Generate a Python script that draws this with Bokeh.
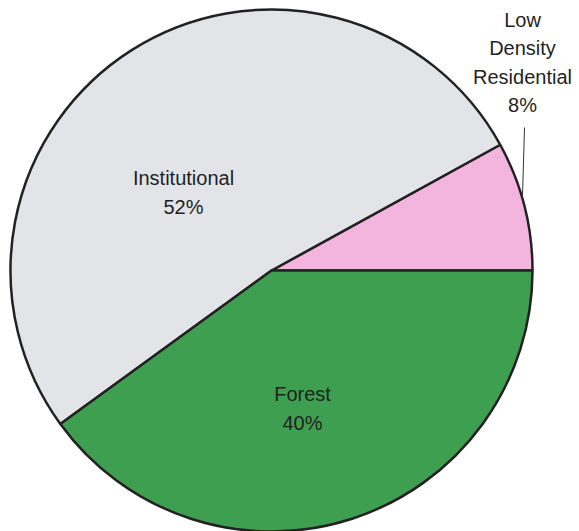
import numpy as np
from bokeh.plotting import figure
from bokeh.models import Range1d, ColumnDataSource
from bokeh.core.properties import value
from bokeh.embed import file_html
from bokeh.resources import INLINE

# Land use shares (percent), listed counter-clockwise from the east
categories = ["Low Density Residential", "Institutional", "Forest"]
shares = [8, 52, 40]
label_texts = ["Low\nDensity\nResidential\n8%", "Institutional\n52%", "Forest\n40%"]
colors = ["#f3b5de", "#e3e4e8", "#3f9f50"]

W, H = 579, 531
cx, cy, r = 271, H - 270, 261

frac = np.array(shares, dtype=float) / sum(shares)
ends = np.cumsum(frac) * 2 * np.pi
starts = np.concatenate([[0.0], ends[:-1]])

src = ColumnDataSource(dict(cat=categories, start=starts, end=ends, color=colors))

p = figure(width=W, height=H, x_range=Range1d(0, W), y_range=Range1d(0, H),
           output_backend="svg", toolbar_location=None, min_border=0)
p.axis.visible = False
p.grid.visible = False
p.outline_line_color = None
p.background_fill_color = "white"
p.border_fill_color = "white"

p.wedge(x=cx, y=cy, radius=r, radius_units="data",
        start_angle="start", end_angle="end", source=src,
        fill_color="color", line_color="#222222", line_width=2.5)

# label positions (pixel layout, top-left origin)
lab_x = [522, 183, 302]
lab_y = [62, 192, 408]
p.text(x=lab_x, y=[H - v for v in lab_y], text=label_texts,
       text_font=value("Liberation Sans"), text_font_size="20px",
       text_color="#1f1f1f", text_align="center", text_baseline="middle",
       text_line_height=1.3)

# leader line from the small slice to its label
p.segment(x0=[524], y0=[H - 127], x1=[522], y1=[H - 195],
          line_color="#333333", line_width=1)

open("out.html", "w").write(file_html(p, INLINE))
